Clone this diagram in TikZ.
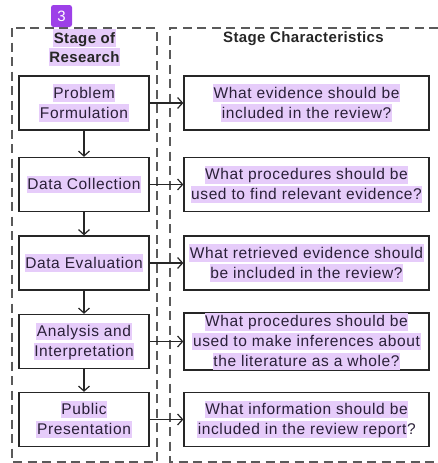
\documentclass[tikz,border=0pt]{standalone}
\usepackage{fontspec}
\setmainfont{Liberation Sans}
\newfontfamily\bodyfont[LetterSpace=4]{Liberation Sans}
\newfontfamily\headfont[LetterSpace=2.5]{Liberation Sans}
\usetikzlibrary{arrows.meta}
\definecolor{hlc}{HTML}{E6CCFA}
\definecolor{badge}{HTML}{9D40E8}
\definecolor{ink}{HTML}{2A2038}
\definecolor{frame}{HTML}{5A5A5A}
% highlighted text line
\newcommand{\hl}[1]{{\setlength{\fboxsep}{0.6pt}\colorbox{hlc}{\rule[-2.8pt]{0pt}{16pt}#1}}}
\begin{document}
\begin{tikzpicture}[x=1pt,y=-1pt,
  stagebox/.style={draw=black!85, line width=1.3pt, minimum width=130pt, minimum height=54pt,
    inner sep=0pt, align=center, text=ink, font=\bodyfont\fontsize{15.5}{20}\selectfont},
  charbox/.style={stagebox, minimum width=245pt},
  group/.style={draw=frame, line width=1.4pt, dash pattern=on 9pt off 5.5pt},
  arr/.style={draw=black!85, line width=1.2pt, -{Straight Barb[length=5pt,width=11pt,line width=1.2pt]}},
  head/.style={font=\headfont\bfseries\fontsize{15}{19}\selectfont, text=black!85, align=center, inner sep=0pt}]
\useasboundingbox (0,0) rectangle (438,463);

% stage groups
\draw[group] (12,28) rectangle (157,462);
\draw[group] (438,28) -- (170,28) -- (170,462) -- (438,462);

% headings
\node[head] (h1) at (84.5,47.5) {\hl{Stage of}\\\hl{Research}};
\node[head] (h2) at (303.5,39) {Stage Characteristics};

% stages of research
\node[stagebox] (s1) at (84,103)   {\hl{Problem}\\\hl{Formulation}};
\node[stagebox] (s2) at (84,184.5) {\hl{Data Collection}};
\node[stagebox] (s3) at (84,263)   {\hl{Data Evaluation}};
\node[stagebox] (s4) at (84,341.5) {\hl{Analysis and}\\\hl{Interpretation}};
\node[stagebox] (s5) at (84,419.5) {\hl{Public}\\\hl{Presentation}};

% characteristics
\node[charbox] (c1) at (306.5,103)   {\hl{What evidence should be}\\\hl{included in the review?}};
\node[charbox] (c2) at (306.5,184.5) {\hl{What procedures should be}\\\hl{used to find relevant evidence?}};
\node[charbox] (c3) at (306.5,263)   {\hl{What retrieved evidence should}\\\hl{be included in the review?}};
\node[charbox] (c4) at (306.5,341.5) {\hl{What procedures should be}\\\hl{used to make inferences about}\\\hl{the literature as a whole?}};
\node[charbox] (c5) at (306.5,419.5) {\hl{What information should be}\\\hl{included in the review report}?};

% flow between stages
\foreach \a/\b in {s1/s2,s2/s3,s3/s4,s4/s5}
  \draw[arr] (\a.south) -- (\b.north);
% stage to characteristic
\foreach \i in {1,...,5}
  \draw[arr] (s\i.east) -- (c\i.west);

% badge
\node[fill=badge, rounded corners=2.5pt, minimum width=21pt, minimum height=22pt, inner sep=0pt,
  text=white, font=\fontsize{15}{15}\selectfont] (b) at (61.5,16) {3};
\end{tikzpicture}
\end{document}
